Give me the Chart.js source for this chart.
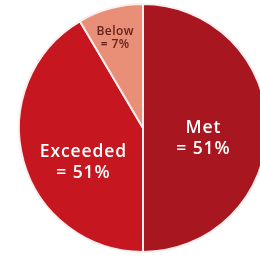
<!DOCTYPE html>
<html><head><meta charset="utf-8">
<script src="https://cdn.jsdelivr.net/npm/chart.js@4"></script>
<style>
html,body{margin:0;padding:0;background:#fff;overflow:hidden;width:260px;height:259px}
#wrap{position:absolute;left:0;top:0;width:286px;height:256px}
</style></head><body>
<div id="wrap"><canvas id="c" width="286" height="256"></canvas></div>
<script>
const categories = ["Met", "Exceeded", "Below"];
const sliceValues = [50, 41.5, 8.5];
const labelLines = [["Met", "= 51%"], ["Exceeded", "= 51%"], ["Below", "= 7%"]];
const colors = ["#a8161f", "#c6161f", "#e98e77"];

const labelStyle = [
  {dx: 60, dy: 11, size: 17.5, color: "#ffffff", gap: 21, ls: 0.9},
  {dx: -60, dy: 35, size: 17.5, color: "#ffffff", gap: 21, ls: 0.9},
  {dx: -28, dy: -90, size: 12, color: "#65211b", gap: 13, ls: 0.4}
];

const labelPlugin = {
  id: "sliceLabels",
  afterDatasetsDraw(chart) {
    const ctx = chart.ctx;
    const meta = chart.getDatasetMeta(0);
    const arc = meta.data[0];
    const cx = arc.x, cy = arc.y;
    ctx.save();
    ctx.textAlign = "center";
    ctx.textBaseline = "middle";
    labelLines.forEach((lines, i) => {
      const s = labelStyle[i];
      ctx.fillStyle = s.color;
      ctx.font = "600 " + s.size + "px 'Open Sans', sans-serif";
      if ("letterSpacing" in ctx) ctx.letterSpacing = s.ls + "px";
      const x = cx + s.dx + s.ls / 2, y0 = cy + s.dy - s.gap * (lines.length - 1) / 2;
      lines.forEach((t, j) => ctx.fillText(t, x, y0 + j * s.gap));
    });
    ctx.restore();
  }
};

new Chart(document.getElementById("c"), {
  type: "pie",
  data: {
    labels: categories,
    datasets: [{
      data: sliceValues,
      backgroundColor: colors,
      borderColor: "#fbeeee",
      borderWidth: 2
    }]
  },
  options: {
    responsive: false,
    animation: false,
    layout: {padding: 3},
    plugins: {legend: {display: false}, tooltip: {enabled: false}}
  },
  plugins: [labelPlugin]
});
</script>
</body></html>
